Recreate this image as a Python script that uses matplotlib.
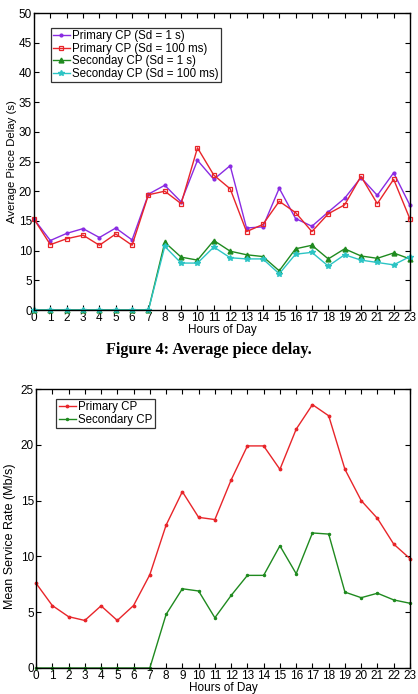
import matplotlib
matplotlib.use("Agg")
import matplotlib.pyplot as plt
import numpy as np

hours = list(range(24))

primary_1s = [15.3, 11.7, 12.9, 13.7, 12.2, 13.8, 11.8, 19.5, 21.0, 18.2, 25.2, 22.0,
              24.3, 13.8, 14.0, 20.5, 15.4, 14.1, 16.5, 18.8, 22.3, 19.3, 23.1, 17.6]
primary_100ms = [15.3, 11.0, 12.0, 12.6, 10.9, 12.8, 10.9, 19.4, 20.0, 17.9, 27.3, 22.7,
                 20.4, 13.2, 14.4, 18.3, 16.4, 13.2, 16.2, 17.7, 22.5, 17.9, 22.0, 15.3]
secondary_1s = [0, 0, 0, 0, 0, 0, 0, 0, 11.4, 8.9, 8.4, 11.7,
                9.9, 9.3, 9.0, 6.6, 10.3, 10.9, 8.6, 10.3, 9.1, 8.7, 9.6, 8.6]
secondary_100ms = [0, 0, 0, 0, 0, 0, 0, 0, 10.7, 7.9, 7.9, 10.6,
                   8.8, 8.6, 8.6, 6.1, 9.4, 9.7, 7.4, 9.3, 8.4, 8.0, 7.6, 9.0]

rate_primary = [7.6, 5.6, 4.6, 4.26, 5.57, 4.26, 5.6, 8.36, 12.8, 15.8, 13.5, 13.3,
                16.85, 19.9, 19.9, 17.8, 21.4, 23.6, 22.6, 17.8, 15.0, 13.4, 11.1, 9.8]
rate_secondary = [0, 0, 0, 0, 0, 0, 0, 0, 4.8, 7.1, 6.9, 4.5,
                  6.5, 8.3, 8.3, 10.95, 8.45, 12.1, 12.0, 6.8, 6.3, 6.7, 6.1, 5.8]

labels_top = ["Primary CP (Sd = 1 s)", "Primary CP (Sd = 100 ms)",
              "Seconday CP (Sd = 1 s)", "Seconday CP (Sd = 100 ms)"]
labels_bot = ["Primary CP", "Secondary CP"]

plt.rcParams['font.family'] = ['Liberation Sans', 'DejaVu Sans']
FS = 8.5
LFS = 8.3

fig = plt.figure(figsize=(4.18, 6.94), dpi=100)

def style(ax, ymax, ystep):
    ax.set_xlim(0, 23)
    ax.set_ylim(0, ymax)
    ax.set_xticks(hours)
    ax.set_yticks(np.arange(0, ymax + 0.1, ystep))
    ax.tick_params(direction='in', top=True, right=True, labelsize=FS,
                   length=3.5, width=0.8, pad=1.5)
    for s in ax.spines.values():
        s.set_linewidth(1.0)
    ax.set_xlabel("Hours of Day", fontsize=FS, labelpad=0)

ax1 = fig.add_axes([34/418, 1-310/694, 376/418, 297/694])
c_purple = '#8a2be2'
c_red = '#e8252a'
c_green = '#1f8a1f'
c_cyan = '#2cc4c4'
ax1.plot(hours, primary_1s, color=c_purple, marker='.', ms=4, lw=1, label=labels_top[0], clip_on=False)
ax1.plot(hours, primary_100ms, color=c_red, marker='s', ms=3, mfc='none', mew=0.9, lw=1, label=labels_top[1], clip_on=False)
ax1.plot(hours, secondary_1s, color=c_green, marker='^', ms=3.5, lw=1, label=labels_top[2], clip_on=False)
ax1.plot(hours, secondary_100ms, color=c_cyan, marker='*', ms=4, lw=1, label=labels_top[3], clip_on=False)
style(ax1, 50, 5)
ax1.set_ylabel("Average Piece Delay (s)", fontsize=8.2, labelpad=1.5)
leg1 = ax1.legend(loc='upper left', bbox_to_anchor=(0.044, 0.95), fontsize=LFS, frameon=True,
                  fancybox=False, edgecolor='black', handlelength=1.5, handletextpad=0.2,
                  borderpad=0.2, labelspacing=0.05, borderaxespad=0)
leg1.get_frame().set_linewidth(0.9)

fig.text(0.5, 1-350/694, "Figure 4: Average piece delay.", ha='center', va='center',
         fontsize=11.7, fontweight='bold', family=['Liberation Serif', 'DejaVu Serif'])

ax2 = fig.add_axes([36/418, 1-668/694, 374/418, 279/694])
ax2.plot(hours, rate_primary, color=c_red, marker='.', ms=3.5, lw=1, label=labels_bot[0], clip_on=False)
ax2.plot(hours, rate_secondary, color=c_green, marker='.', ms=3, lw=1, label=labels_bot[1], clip_on=False)
style(ax2, 25, 5)
ax2.set_ylabel("Mean Service Rate (Mb/s)", fontsize=9.0)
ax2.yaxis.set_label_coords(-0.053, 0.473)
leg2 = ax2.legend(loc='upper left', bbox_to_anchor=(0.054, 0.965), fontsize=LFS, frameon=True,
                  fancybox=False, edgecolor='black', handlelength=1.5, handletextpad=0.2,
                  borderpad=0.2, labelspacing=0.05, borderaxespad=0)
leg2.get_frame().set_linewidth(0.9)

fig.savefig("out.png", dpi=100)
